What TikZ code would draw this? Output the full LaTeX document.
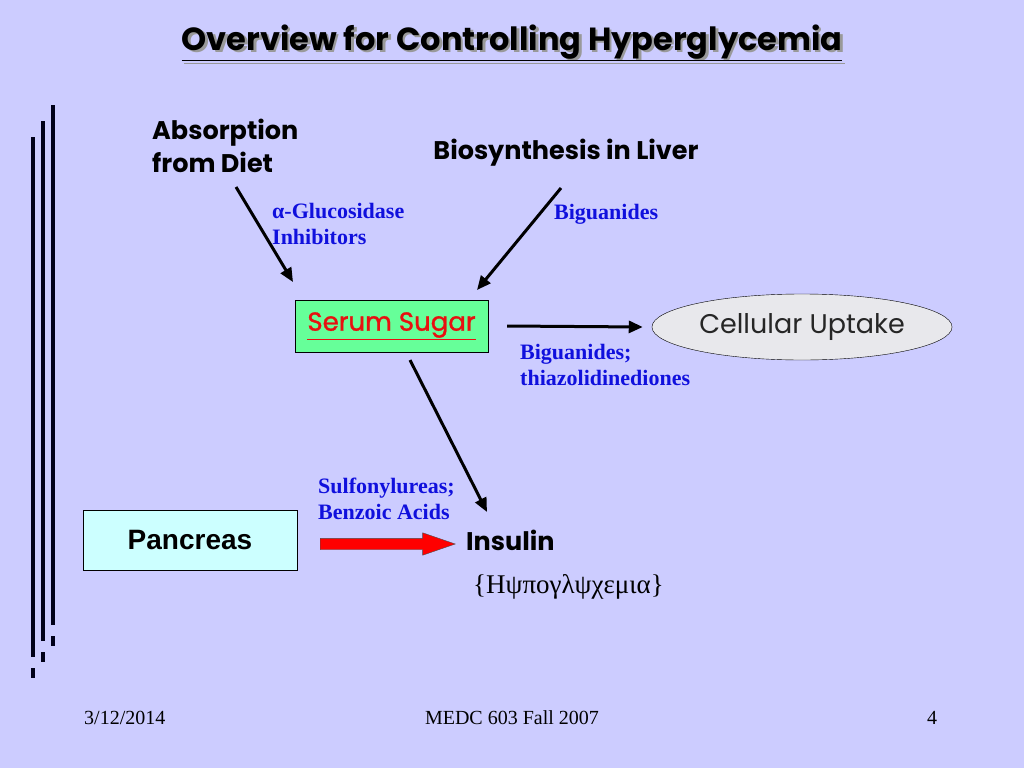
\documentclass[tikz,border=0pt]{standalone}
\usepackage{fontspec}
\setmainfont{Liberation Serif}
\newfontfamily\gothic{Poppins}
\newfontfamily\gothicmed[FakeBold=1.2]{Poppins}
\newfontfamily\arialfont{Liberation Sans}
\usetikzlibrary{positioning,shapes.geometric,shapes.arrows,arrows.meta}

\definecolor{slidebg}{HTML}{CCCCFF}
\definecolor{sugargreen}{HTML}{66FF99}
\definecolor{pancreascyan}{HTML}{CCFFFF}
\definecolor{uptakegray}{HTML}{E8E8EC}
\definecolor{drugblue}{HTML}{1010DD}
\definecolor{sugarred}{HTML}{E81010}

\tikzset{
	flow/.style={line width=3pt, -{Triangle[length=14pt,width=12pt]}},
	drug/.style={font=\bfseries\fontsize{22}{26}\selectfont, text=drugblue, align=left, inner sep=0pt, anchor=west},
	source/.style={font=\gothic\bfseries\fontsize{25.5}{33}\selectfont, align=left, inner sep=0pt},
	footer/.style={font=\fontsize{20}{22}\selectfont, inner sep=0pt},
	sidebar/.style={line width=4.5pt, black!90!blue},
}

\begin{document}
\begin{tikzpicture}[
		x=1pt, y=-1pt,
	]
		\fill [slidebg] (0,0) rectangle (1024,768);
		\useasboundingbox (0,0) rectangle (1024,768);

		% side bars
		\foreach \x/\top/\bot in {33/137/657, 43/121/641, 53/105/625} {
			\draw [sidebar] (\x,\top) -- (\x,\bot);
			\draw [sidebar] (\x,\bot+11) -- (\x,\bot+21);
		}

		% title with shadow
		\node [font=\gothic\bfseries\fontsize{32}{38}\selectfont, text=black!40] (titleshadow) at (514.5,45.5) {\underline{Overview for Controlling Hyperglycemia}};
		\node [font=\gothic\bfseries\fontsize{32}{38}\selectfont] (title) at (512,43) {\underline{Overview for Controlling Hyperglycemia}};

		% sources
		\node [source, anchor=west] (diet) at (152,146) {Absorption\\from Diet};
		\node [source] (liver) at (566,153) {Biosynthesis in Liver};

		% boxes
		\node [draw, fill=sugargreen, minimum width=193pt, minimum height=52pt, font=\gothicmed\fontsize{26}{28}\selectfont, text=sugarred] (sugar) at (391.5,326) {\underline{Serum Sugar}};
		\node [draw, ellipse, fill=uptakegray, minimum width=300pt, minimum height=66pt, font=\gothic\fontsize{27}{30}\selectfont, text=black!85] (uptake) at (802,327) {Cellular Uptake};
		\node [draw, fill=pancreascyan, minimum width=214pt, minimum height=60pt, font=\arialfont\bfseries\fontsize{28}{30}\selectfont] (pancreas) at (190,540) {Pancreas};
		\node [source, anchor=west] (insulin) at (466,540) {Insulin};
		\node [inner sep=0pt, anchor=west, font=\fontsize{27}{30}\selectfont] (hypo) at (473,587) {\{Ηψπογλψχεμια\}};

		% drug labels
		\node [drug] (glucosidase) at (272,224) {α-Glucosidase\\Inhibitors};
		\node [drug] (biguanides) at (554,214) {Biguanides};
		\node [drug] (glitazones) at (520,365) {Biguanides;\\thiazolidinediones};
		\node [drug] (sulfonyl) at (318,499) {Sulfonylureas;\\Benzoic Acids};

		% arrows
		\coordinate (dietend) at (236,187);
		\coordinate (dietin) at (293,282);
		\coordinate (liverend) at (561,188);
		\coordinate (liverin) at (477,290);
		\coordinate (sugarout) at (410,360);
		\coordinate (insulinin) at (487,512);
		\draw [flow] (dietend) -- (dietin);
		\draw [flow] (liverend) -- (liverin);
		\draw [flow] ([xshift=19pt]sugar.east) -- ([xshift=-9pt]uptake.west);
		\draw [flow] (sugarout) -- (insulinin);
		\node [single arrow, draw=black!70, fill=red, inner sep=5.5pt, minimum width=22pt, single arrow head extend=5.5pt, single arrow tip angle=38, minimum height=135pt, anchor=tail] (secretion) at (320,544) {};

		% footer
		\node [footer, anchor=west] (date) at (84,718) {3/12/2014};
		\node [footer] (course) at (512,718) {MEDC 603 Fall 2007};
		\node [footer] (page) at (932,718) {4};
	\end{tikzpicture}
\end{document}
